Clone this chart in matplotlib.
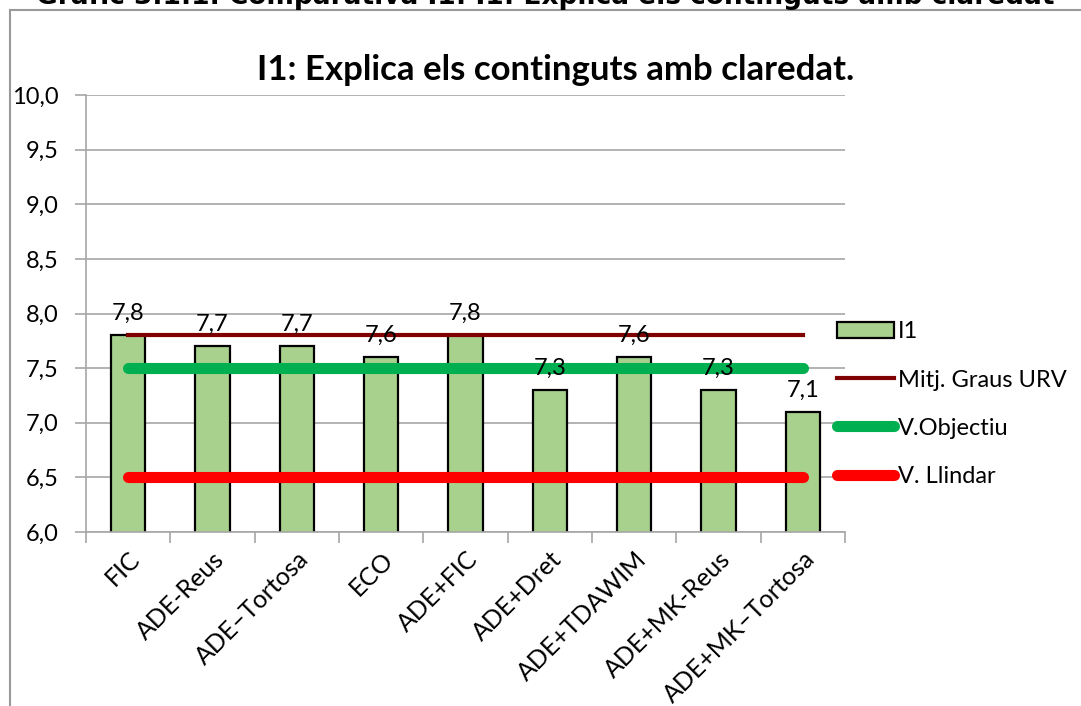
import numpy as np
import matplotlib
matplotlib.use('Agg')
import matplotlib.pyplot as plt
from matplotlib.lines import Line2D

plt.rcParams['font.family'] = ['Lato', 'DejaVu Sans']

# dades
categories = ['FIC', 'ADE-Reus', 'ADE\u2013Tortosa', 'ECO', 'ADE+FIC', 'ADE+Dret',
              'ADE+TDAWIM', 'ADE+MK-Reus', 'ADE+MK\u2013Tortosa']
valors_i1 = [7.8, 7.7, 7.7, 7.6, 7.8, 7.3, 7.6, 7.3, 7.1]
mitjana_urv = [7.8] * 9
v_objectiu = [7.5] * 9
v_llindar = [6.5] * 9
yticks = [6.0, 6.5, 7.0, 7.5, 8.0, 8.5, 9.0, 9.5, 10.0]

W, H = 1081, 706
fig = plt.figure(figsize=(W / 100, H / 100), dpi=100)

# marc exterior
fig.add_artist(Line2D([10 / W, 10 / W], [0, 1 - 10 / H], transform=fig.transFigure,
                      color='#999999', lw=1.5))
fig.add_artist(Line2D([10 / W, 1], [1 - 10 / H, 1 - 10 / H], transform=fig.transFigure,
                      color='#999999', lw=1.5))

# títol retallat a dalt (com a la imatge original)
fig.text(545 / W, 1 + 4 / H, 'Gràfic 3.1.1. Comparativa I1: I1: Explica els continguts amb claredat',
         ha='center', va='center', fontsize=19, fontweight='bold', family='DejaVu Sans')

# títol del gràfic
fig.text(556 / W, 1 - 70 / H, 'I1: Explica els continguts amb claredat.',
         ha='center', va='center', fontsize=25, fontweight='bold')

ax = fig.add_axes([86 / W, 174 / H, (845 - 86) / W, (532 - 95) / H])
x = np.arange(len(categories))
gris = '#A6A6A6'

ax.bar(x, valors_i1, width=0.41, color='#A9D18E', edgecolor='black',
       linewidth=1.6, zorder=2, label='I1')
for xi, v in zip(x, valors_i1):
    ax.annotate(('%.1f' % v).replace('.', ','), (xi, v), xytext=(0, 8),
                textcoords='offset points', ha='center', va='bottom', fontsize=17, zorder=5)

ax.plot(x, mitjana_urv, color='#7F0000', lw=3, zorder=3, label='Mitj. Graus URV')
ax.plot(x, v_objectiu, color='#00B050', lw=8, solid_capstyle='round', zorder=3, label='V.Objectiu')
ax.plot(x, v_llindar, color='#FF0000', lw=8, solid_capstyle='round', zorder=3, label='V. Llindar')

ax.set_xlim(-0.5, len(categories) - 0.5)
ax.set_ylim(6, 10)
ax.set_yticks(yticks)
ax.set_yticklabels([('%.1f' % t).replace('.', ',') for t in yticks], fontsize=17)
ax.yaxis.grid(True, color=gris, lw=1.2, zorder=0)
ax.set_axisbelow(True)

ax.set_xticks(np.arange(len(categories) + 1) - 0.5)
ax.set_xticklabels([])
ax.set_xticks(x, minor=True)
ax.set_xticklabels(categories, minor=True, rotation=45, ha='right', rotation_mode='anchor',
                   fontsize=18)
ax.tick_params(axis='x', which='minor', length=0, pad=11)
ax.tick_params(axis='x', which='major', length=8, color=gris, width=1.2)
ax.tick_params(axis='y', length=8, color=gris, width=1.2, pad=12)

for s in ['top', 'right']:
    ax.spines[s].set_visible(False)
for s in ['left', 'bottom']:
    ax.spines[s].set_color(gris)
    ax.spines[s].set_linewidth(1.2)

handles, labels = ax.get_legend_handles_labels()
order = [3, 0, 1, 2]
fig.legend([handles[i] for i in order], [labels[i] for i in order],
           loc='upper left', bbox_to_anchor=(828 / W, 1 - 312 / H), frameon=False,
           fontsize=17, handlelength=2.4, handletextpad=0.15, labelspacing=1.15,
           borderaxespad=0)

fig.savefig('out.png', dpi=100)
